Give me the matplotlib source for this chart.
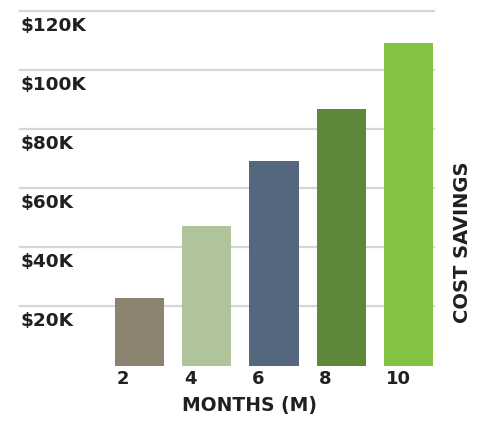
import matplotlib
matplotlib.use("Agg")
import matplotlib.pyplot as plt
import matplotlib.transforms as mtransforms
import numpy as np

months = ["2", "4", "6", "8", "10"]
savings_k = [22.8, 47.2, 69.3, 86.8, 109.2]
colors = ["#8c8270", "#b0c49b", "#55667f", "#5f8739", "#82c341"]
ytick_vals = [20, 40, 60, 80, 100, 120]
ytick_labels = ["$20K", "$40K", "$60K", "$80K", "$100K", "$120K"]

W, H = 483, 429
fig = plt.figure(figsize=(W / 100, H / 100), dpi=100)
left_px, right_px, base_px, top_px = 20, 434, 365.5, 10.7
ax = fig.add_axes([left_px / W, (H - base_px) / H, (right_px - left_px) / W, (base_px - top_px) / H])

x = np.arange(len(months))
width = 0.73
ax.set_xlim(-1.777, 4.379)
ax.set_ylim(0, 120)

for v in ytick_vals:
    ax.axhline(v, color="#d6d6d6", lw=1.6, zorder=1, clip_on=False)

ax.bar(x, savings_k, width=width, color=colors, zorder=2)

txt = "#231f20"
fp = dict(family="DejaVu Sans", weight="bold", color=txt)
off = mtransforms.offset_copy(ax.transData, fig=fig, x=0, y=-15, units="dots")
trans = mtransforms.blended_transform_factory(ax.transAxes, off)
for v, lab in zip(ytick_vals, ytick_labels):
    ax.text(0, v, lab, transform=trans, ha="left", va="center", fontsize=13.3, **fp)

off2 = mtransforms.offset_copy(ax.transData, fig=fig, x=2, y=-14, units="dots")
for xi, lab in zip(x, months):
    ax.text(xi - width / 2, 0, lab, transform=off2, ha="left", va="center", fontsize=13, **fp)

fig.text(250 / W, 1 - 406 / H, "MONTHS (M)", ha="center", va="center", fontsize=13.5, **fp)
fig.text(463 / W, 1 - 242 / H, "COST SAVINGS", ha="center", va="center", rotation=90, fontsize=14, **fp)

ax.set_xticks([])
ax.set_yticks([])
for s in ax.spines.values():
    s.set_visible(False)
ax.patch.set_alpha(0)

fig.savefig("out.png", dpi=100)
